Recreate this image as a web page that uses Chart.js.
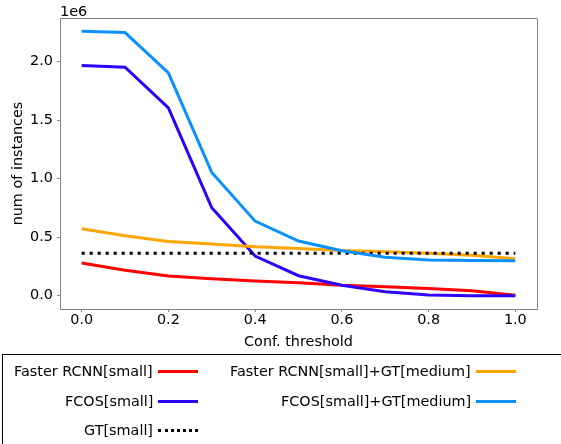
<!DOCTYPE html>
<html>
<head>
<meta charset="utf-8">
<script src="https://cdn.jsdelivr.net/npm/chart.js@4"></script>
<style>
  html, body { margin: 0; padding: 0; background: #fff; }
  #wrap { position: relative; width: 561px; height: 444px; overflow: hidden; font-family: "DejaVu Sans", sans-serif; }
  #legend { position: absolute; left: 2px; top: 354px; width: 600px; height: 120px; border: 1px solid #000; box-sizing: border-box; }
  .item { position: absolute; font-size: 14.4px; color: #000; white-space: nowrap; display: flex; align-items: center; }
  .item .txt { text-align: right; }
  .item .line { width: 40px; height: 0; margin-left: 5px; }
</style>
</head>
<body>
<div id="wrap">
  <canvas id="chart" width="561" height="444"></canvas>
  <div id="legend"></div>
</div>
<script>
// x positions (conf. threshold) and series values
const thresholds = [0.0, 0.1, 0.2, 0.3, 0.4, 0.5, 0.6, 0.7, 0.8, 0.9, 1.0];
const fasterSmall = [0.279, 0.217, 0.168, 0.145, 0.125, 0.111, 0.089, 0.077, 0.063, 0.043, 0.005];
const fcosSmall = [1.966, 1.951, 1.604, 0.751, 0.339, 0.171, 0.089, 0.034, 0.006, 0.0, 0.0];
const gtSmall = [0.362, 0.362, 0.362, 0.362, 0.362, 0.362, 0.362, 0.362, 0.362, 0.362, 0.362];
const fasterGtMed = [0.572, 0.512, 0.464, 0.441, 0.418, 0.404, 0.387, 0.375, 0.362, 0.345, 0.316];
const fcosGtMed = [2.258, 2.247, 1.903, 1.053, 0.637, 0.467, 0.384, 0.328, 0.305, 0.300, 0.299];
const xTicks = [0.0, 0.2, 0.4, 0.6, 0.8, 1.0];
const yTicks = [0.0, 0.5, 1.0, 1.5, 2.0];

const SCALE = 1e6;
const FONT = '"DejaVu Sans", sans-serif';
const FSIZE = 14.4;

function pts(vals) {
    return vals.map((v, i) => ({ x: thresholds[i], y: v * SCALE }));
}

const series = [
    { label: 'Faster RCNN[small]', data: fasterSmall, color: '#ff0000', dash: [], order: 4, col: 0, row: 0 },
    { label: 'FCOS[small]', data: fcosSmall, color: '#2e00ff', dash: [], order: 3, col: 0, row: 1 },
    { label: 'GT[small]', data: gtSmall, color: '#000000', dash: [3, 5], order: 1, col: 0, row: 2 },
    { label: 'Faster RCNN[small]+GT[medium]', data: fasterGtMed, color: '#ffa500', dash: [], order: 2, col: 1, row: 0 },
    { label: 'FCOS[small]+GT[medium]', data: fcosGtMed, color: '#0a90ff', dash: [], order: 0, col: 1, row: 1 }
];

// top/right spines and the "1e6" offset text above the y axis
const frameAndOffset = {
    id: 'frameAndOffset',
    afterDraw(chart) {
        const ctx = chart.ctx;
        const a = chart.chartArea;
        ctx.save();
        ctx.strokeStyle = '#888';
        ctx.lineWidth = 1;
        ctx.beginPath();
        ctx.moveTo(a.left, a.top + 0.5);
        ctx.lineTo(a.right + 0.5, a.top + 0.5);
        ctx.lineTo(a.right + 0.5, a.bottom);
        ctx.stroke();
        ctx.font = FSIZE + 'px ' + FONT;
        ctx.fillStyle = '#000';
        ctx.textAlign = 'left';
        ctx.textBaseline = 'alphabetic';
        ctx.fillText('1e6', a.left, 16);
        ctx.restore();
    }
};

const ctx = document.getElementById('chart').getContext('2d');
new Chart(ctx, {
    type: 'line',
    data: {
        datasets: series.map(s => ({
            label: s.label,
            data: pts(s.data),
            borderColor: s.color,
            borderWidth: 3,
            borderDash: s.dash,
            borderCapStyle: 'butt',
            pointRadius: 0,
            tension: 0,
            fill: false,
            order: s.order
        }))
    },
    options: {
        responsive: false,
        animation: false,
        layout: { padding: { left: 0, right: 24, top: 18, bottom: 92 } },
        plugins: { legend: { display: false }, tooltip: { enabled: false } },
        scales: {
            x: {
                type: 'linear',
                min: -0.05,
                max: 1.05,
                afterBuildTicks: (scale) => { scale.ticks = xTicks.map(v => ({ value: v })); },
                afterFit: (scale) => { scale.height = 43; },
                ticks: { color: '#000', font: { family: FONT, size: FSIZE }, padding: 0, maxRotation: 0,
                    callback: (v) => Number(v).toFixed(1) },
                grid: { drawOnChartArea: false, drawTicks: true, tickLength: 3, color: '#888', lineWidth: 1 },
                border: { color: '#888', width: 1 },
                title: { display: true, text: 'Conf. threshold', color: '#000',
                    font: { family: FONT, size: FSIZE }, padding: { top: 0, bottom: 1 } }
            },
            y: {
                type: 'linear',
                min: -0.113 * SCALE,
                max: 2.371 * SCALE,
                afterBuildTicks: (scale) => { scale.ticks = yTicks.map(v => ({ value: v * SCALE })); },
                afterFit: (scale) => { scale.width = 60; },
                ticks: { color: '#000', font: { family: FONT, size: FSIZE }, padding: 4,
                    callback: (v) => (v / SCALE).toFixed(1) },
                grid: { drawOnChartArea: false, drawTicks: true, tickLength: 3, color: '#888', lineWidth: 1 },
                border: { color: '#888', width: 1 },
                title: { display: true, text: 'num of instances', color: '#000',
                    font: { family: FONT, size: FSIZE }, padding: { top: 10, bottom: 0 } }
            }
        }
    },
    plugins: [frameAndOffset]
});

// legend box below the plot: text right-aligned, line sample after it
const legend = document.getElementById('legend');
const lineEnd = [195, 513];
const rowMid = [16, 46, 75];
series.forEach(s => {
    const item = document.createElement('div');
    item.className = 'item';
    const lineStyle = s.dash.length ? `border-top: 3px dotted ${s.color};` : `border-top: 3px solid ${s.color};`;
    item.innerHTML = `<span class="txt">${s.label}</span><span class="line" style="${lineStyle}"></span>`;
    legend.appendChild(item);
    const w = item.offsetWidth;
    const h = item.offsetHeight;
    item.style.left = (lineEnd[s.col] - w) + 'px';
    item.style.top = (rowMid[s.row] - h / 2) + 'px';
});
</script>
</body>
</html>
